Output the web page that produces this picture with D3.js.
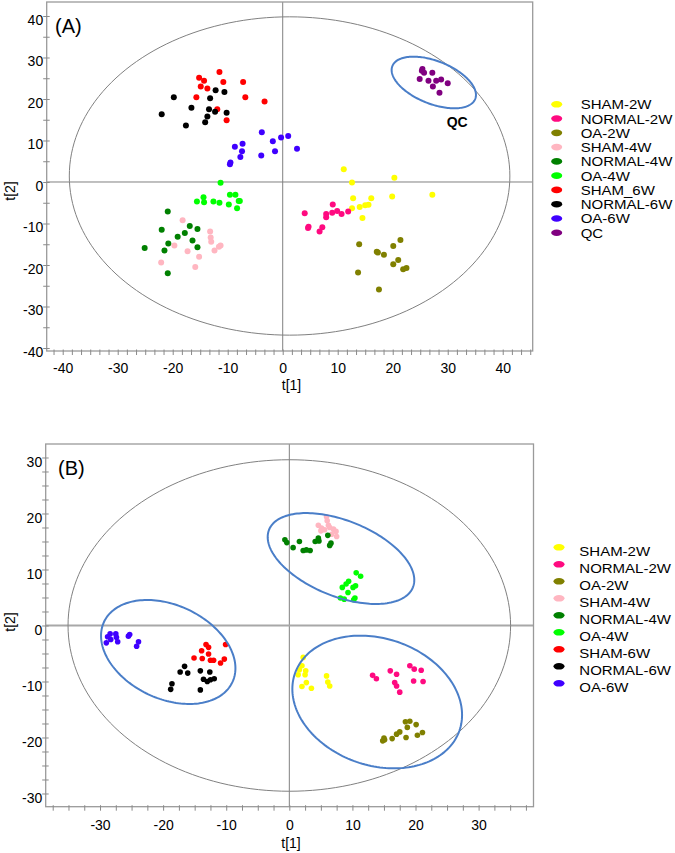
<!DOCTYPE html>
<html><head><meta charset="utf-8">
<script src="https://cdn.jsdelivr.net/npm/d3@7"></script>
<style>
body{margin:0;background:#fff}
svg{display:block}
text{font-family:Arial,"Liberation Sans",sans-serif;fill:#000}
</style>
</head><body>
<svg id="c" width="675" height="853"></svg>
<script>
// ---------------- DATA ----------------
const groupsA = ["SHAM-2W","NORMAL-2W","OA-2W","SHAM-4W","NORMAL-4W","OA-4W","SHAM_6W","NORMAL-6W","OA-6W","QC"];
const groupsB = ["SHAM-2W","NORMAL-2W","OA-2W","SHAM-4W","NORMAL-4W","OA-4W","SHAM-6W","NORMAL-6W","OA-6W"];
const groupColors = ["#FFFF00","#FF0A80","#808000","#FFB6C1","#008000","#00FF00","#FF0000","#000000","#3F00FF","#800080"];

// Panel A scores (t[1], t[2])
const a_sham2w   = [[11.1,3.1],[12.6,-0.1],[20.3,1.0],[12.8,-3.9],[16.1,-3.9],[19.9,-3.5],[27.2,-3.1],[14.0,-6.0],[15.0,-5.6],[15.6,-5.5],[12.6,-6.3],[14.5,-8.7]];
const a_normal2w = [[4.0,-7.5],[9.1,-5.4],[7.9,-7.7],[7.9,-8.5],[9.0,-7.4],[9.9,-7.0],[10.7,-7.7],[11.9,-7.1],[4.7,-10.8],[4.6,-11.1],[7.2,-10.9],[6.7,-11.9]];
const a_oa2w     = [[13.9,-15.0],[21.4,-14.0],[20.1,-15.4],[17.1,-16.8],[17.3,-17.0],[18.4,-17.5],[21.0,-18.8],[20.1,-19.8],[21.9,-21.0],[22.5,-20.7],[13.7,-21.8],[17.5,-25.9]];
const a_sham4w   = [[-18.2,-9.2],[-13.2,-11.9],[-13.1,-13.4],[-13.0,-14.4],[-19.7,-15.3],[-11.3,-15.3],[-11.6,-15.6],[-17.3,-16.7],[-12.4,-16.5],[-15.2,-18.0],[-22.1,-19.4],[-15.9,-20.5]];
const a_normal4w = [[-20.9,-7.1],[-22.0,-11.5],[-16.9,-10.6],[-15.5,-11.3],[-19.1,-13.2],[-17.8,-12.3],[-20.8,-14.8],[-16.4,-14.1],[-15.5,-15.7],[-21.5,-16.5],[-25.1,-15.9],[-20.9,-22.0]];
const a_oa4w     = [[-11.3,-0.2],[-14.4,-3.7],[-14.3,-4.9],[-15.6,-4.7],[-12.6,-4.7],[-11.5,-5.0],[-9.6,-3.1],[-8.6,-3.1],[-9.8,-5.4],[-8.0,-4.6],[-7.8,-4.6],[-8.3,-6.3]];
const a_sham6w   = [[-15.2,25.1],[-14.3,24.4],[-11.5,26.5],[-10.8,24.1],[-14.9,23.0],[-13.7,22.5],[-7.2,24.1],[-15.7,20.4],[-6.8,20.4],[-3.3,19.4],[-11.9,17.5],[-10.2,14.9]];
const a_normal6w = [[-19.8,20.4],[-22.0,16.3],[-16.6,17.9],[-17.6,13.6],[-13.2,20.2],[-12.2,22.1],[-10.6,21.7],[-13.4,17.5],[-13.7,15.8],[-14.1,14.4],[-12.3,16.9],[-10.2,16.7]];
const a_oa6w     = [[-3.8,12.0],[-0.3,10.7],[1.0,11.1],[-1.8,9.8],[2.6,8.0],[-7.3,9.2],[-8.7,8.5],[-7.4,7.4],[-1.4,7.4],[-7.7,6.0],[-3.9,6.4],[-9.5,4.7],[-9.6,4.3]];
const a_qc       = [[25.4,27.2],[25.7,26.3],[27.2,26.3],[24.9,24.8],[26.5,24.4],[27.9,24.4],[28.8,24.7],[30.0,23.8],[27.3,23.0],[28.5,21.5],[25.3,26.8]];

// Panel B scores (t[1], t[2])
const b_sham2w   = [[2.2,-5.7],[2.0,-7.2],[1.6,-7.9],[2.6,-8.1],[1.4,-8.8],[2.5,-8.8],[2.7,-10.2],[2.0,-10.9],[3.5,-11.2],[5.9,-9.0],[6.1,-10.1],[6.4,-10.8]];
const b_normal2w = [[13.2,-8.9],[13.8,-9.5],[16.0,-8.1],[17.0,-8.7],[16.7,-10.2],[17.0,-10.8],[17.5,-11.9],[19.1,-7.2],[19.8,-7.8],[20.9,-8.0],[19.7,-9.9],[21.2,-10.0]];
const b_oa2w     = [[18.4,-17.2],[19.1,-17.1],[18.7,-18.2],[20.1,-17.7],[17.5,-19.0],[17.0,-19.4],[16.3,-20.2],[15.0,-20.1],[14.8,-20.6],[15.1,-20.4],[18.5,-20.0],[20.3,-19.6],[21.1,-19.1]];
const b_sham4w   = [[5.9,19.4],[6.0,18.7],[4.6,17.9],[5.1,17.4],[5.6,17.1],[6.4,17.5],[7.0,17.2],[7.4,16.8],[6.7,16.3],[7.5,15.9],[5.0,16.9],[6.2,17.9]];
const b_normal4w = [[-0.7,15.3],[-0.4,14.8],[0.6,13.9],[1.6,15.0],[2.2,13.4],[2.7,13.5],[3.3,13.4],[4.1,15.0],[4.6,15.6],[4.7,15.1],[6.1,16.1],[6.6,14.7],[6.4,14.3]];
const b_oa4w     = [[10.6,9.4],[11.3,8.8],[9.4,7.9],[9.0,7.4],[8.4,6.8],[10.5,7.1],[10.1,6.8],[9.3,5.9],[8.1,4.9],[8.7,4.7],[10.4,4.9],[10.2,4.6]];
const b_sham6w   = [[-13.2,-3.4],[-12.8,-3.9],[-13.9,-4.5],[-10.1,-3.4],[-15.1,-5.8],[-13.8,-5.9],[-12.8,-5.1],[-12.5,-6.2],[-12.0,-6.2],[-10.9,-6.7],[-10.3,-6.0]];
const b_normal6w = [[-16.6,-7.3],[-17.3,-8.3],[-16.1,-8.5],[-14.1,-8.1],[-12.6,-8.3],[-13.6,-9.6],[-13.0,-10.0],[-12.5,-9.7],[-11.9,-9.5],[-18.6,-10.4],[-18.8,-11.4],[-14.1,-11.5]];
const b_oa6w     = [[-28.4,-1.5],[-28.8,-2.0],[-29.0,-3.1],[-28.3,-2.5],[-27.5,-1.5],[-27.4,-2.1],[-27.2,-2.9],[-25.5,-1.9],[-25.3,-1.6],[-24.2,-3.7],[-23.9,-2.9]];

// Ellipses: [centerX, centerY, u_x, u_y, v_x, v_y] (conjugate semi-axes in data units)
const ellipseA_T2 = [1.25, 1.45, 40.05, 0, 0, 38.35];
const ellipseA_QC = [27.47, 23.98, 7.53, -3.97, -1.44, -4.79];
const ellipseB_T2 = [0, 0, 35.07, 0, 0, 29.6];
const ellipseB_4W = [8.19, 11.96, 11.40, -5.14, -2.23, -6.28];
const ellipseB_6W = [-19.19, -4.73, 10.17, -5.39, -3.16, -7.56];
const ellipseB_2W = [13.93, -13.66, 13.04, -5.09, -3.29, -10.70];

// Axis tick labels
const tickLabelsAx = [-40,-30,-20,-10,0,10,20,30,40];
const tickLabelsAy = [-40,-30,-20,-10,0,10,20,30,40];
const tickLabelsBx = [-30,-20,-10,0,10,20,30];
const tickLabelsBy = [-30,-20,-10,0,10,20,30];

// ---------------- DRAW ----------------
const svg = d3.select("#c");

function drawPanel(o) {
  const g = svg.append("g");
  const x = d3.scaleLinear().domain(o.xDomain).range([o.left, o.right]);
  const y = d3.scaleLinear().domain(o.yDomain).range([o.bottom, o.top]);

  const clipId = "clip" + o.name;
  g.append("clipPath").attr("id", clipId).append("rect")
    .attr("x", o.left).attr("y", o.top).attr("width", o.right - o.left).attr("height", o.bottom - o.top);
  const plot = g.append("g").attr("clip-path", `url(#${clipId})`);

  // zero lines
  plot.append("line").attr("x1", x(0)).attr("x2", x(0)).attr("y1", o.top).attr("y2", o.bottom)
    .attr("stroke", "#808080").attr("stroke-width", 1);
  plot.append("line").attr("x1", o.left).attr("x2", o.right).attr("y1", y(0)).attr("y2", y(0))
    .attr("stroke", o.hzColor).attr("stroke-width", o.hzWidth);

  const ell = (e) => {
    const phis = d3.range(0, 2 * Math.PI + 0.001, Math.PI / 90);
    return d3.line()(phis.map(p => [
      x(e[0] + e[2] * Math.cos(p) + e[4] * Math.sin(p)),
      y(e[1] + e[3] * Math.cos(p) + e[5] * Math.sin(p))
    ])) + "Z";
  };
  plot.append("path").attr("d", ell(o.t2)).attr("fill", "none").attr("stroke", "#808080").attr("stroke-width", 1);

  // points
  o.series.forEach((s, i) => {
    plot.append("g").selectAll("circle").data(s).join("circle")
      .attr("cx", d => x(d[0])).attr("cy", d => y(d[1])).attr("r", o.r)
      .attr("fill", o.colors[i]);
  });

  o.blue.forEach(e => {
    plot.append("path").attr("d", ell(e)).attr("fill", "none").attr("stroke", "#4A7EC8").attr("stroke-width", 2);
  });

  // frame
  g.append("rect").attr("x", o.left).attr("y", o.top).attr("width", o.right - o.left).attr("height", o.bottom - o.top)
    .attr("fill", "none").attr("stroke", "#9a9a9a").attr("stroke-width", 1.3);

  // axes
  const xMinor = d3.range(Math.ceil(o.xDomain[0] / o.xStep), Math.floor(o.xDomain[1] / o.xStep) + 1).map(k => k * o.xStep);
  const yMinor = d3.range(Math.ceil(o.yDomain[0] / o.yStep), Math.floor(o.yDomain[1] / o.yStep) + 1).map(k => k * o.yStep);
  const fmt = (labels) => (d) => {
    const r = Math.round(d);
    return (Math.abs(d - r) < 1e-6 && labels.includes(r)) ? String(r) : "";
  };
  const xa = g.append("g").attr("transform", `translate(0,${o.bottom})`)
    .call(d3.axisBottom(x).tickValues(xMinor).tickSizeOuter(0).tickFormat(fmt(o.xLabels)));
  xa.select(".domain").remove();
  xa.selectAll(".tick line").attr("y1", -1.5).attr("y2", 4).attr("stroke", "#8a8a8a");
  xa.selectAll(".tick text").attr("y", o.xLabelY).attr("dy", 0).attr("font-size", 14)
    .attr("font-family", "Arial, 'Liberation Sans', sans-serif").attr("fill", "#000");

  const ya = g.append("g").attr("transform", `translate(${o.left},0)`)
    .call(d3.axisLeft(y).tickValues(yMinor).tickSizeOuter(0).tickFormat(fmt(o.yLabels)));
  ya.select(".domain").remove();
  ya.selectAll(".tick line").attr("x1", 3).attr("x2", -3.5).attr("stroke", "#8a8a8a");
  ya.selectAll(".tick text").attr("x", -3.5).attr("y", o.yLabelDy).attr("dy", "0.32em").attr("font-size", 14)
    .attr("font-family", "Arial, 'Liberation Sans', sans-serif").attr("fill", "#000");

  // axis titles
  g.append("text").attr("x", o.xTitle[0]).attr("y", o.xTitle[1]).attr("text-anchor", "middle")
    .attr("font-size", 14).text("t[1]");
  g.append("text").attr("transform", `translate(${o.yTitle[0]},${o.yTitle[1]}) rotate(-90)`)
    .attr("text-anchor", "middle").attr("font-size", 14).text("t[2]");

  // panel label
  g.append("text").attr("x", o.panelLabel[0]).attr("y", o.panelLabel[1]).attr("font-size", 20).text(o.label);

  // legend
  const lg = g.append("g");
  o.groups.forEach((name, i) => {
    const cy = o.legY + i * o.legStep;
    lg.append("ellipse").attr("cx", o.legX).attr("cy", cy).attr("rx", 5.5).attr("ry", 3.3).attr("fill", o.colors[i]);
    lg.append("text").attr("transform", `translate(${o.legTextX},${cy + o.legTextDy}) scale(1.25,1)`)
      .attr("font-size", 12).text(name);
  });
  return {x, y, g};
}

const pA = drawPanel({
  name: "A", label: "(A)",
  left: 46.7, right: 532.7, top: 2, bottom: 351,
  xDomain: [-42.91, 45.45], yDomain: [-40.72, 43.37],
  xStep: 10 / 6, yStep: 5,
  xLabels: tickLabelsAx, yLabels: tickLabelsAy,
  xLabelY: 22, yLabelDy: 4,
  hzColor: "#808080", hzWidth: 1,
  t2: ellipseA_T2, blue: [ellipseA_QC],
  series: [a_sham2w, a_normal2w, a_oa2w, a_sham4w, a_normal4w, a_oa4w, a_sham6w, a_normal6w, a_oa6w, a_qc],
  colors: groupColors, groups: groupsA, r: 3,
  xTitle: [291.5, 390], yTitle: [15, 191], panelLabel: [55, 33],
  legX: 556.7, legTextX: 580.7, legY: 104.3, legStep: 14.27, legTextDy: 5
});
pA.g.append("text").attr("x", 446.7).attr("y", 127).attr("font-size", 14).attr("font-weight", "bold").text("QC");

drawPanel({
  name: "B", label: "(B)",
  left: 45.7, right: 533.5, top: 444, bottom: 806.7,
  xDomain: [-38.61, 38.70], yDomain: [-32.36, 32.41],
  xStep: 2.5, yStep: 2.5,
  xLabels: tickLabelsBx, yLabels: tickLabelsBy,
  xLabelY: 23.3, yLabelDy: 4.5,
  hzColor: "#a8a8a8", hzWidth: 2,
  t2: ellipseB_T2, blue: [ellipseB_4W, ellipseB_6W, ellipseB_2W],
  series: [b_sham2w, b_normal2w, b_oa2w, b_sham4w, b_normal4w, b_oa4w, b_sham6w, b_normal6w, b_oa6w],
  colors: groupColors.slice(0, 9), groups: groupsB, r: 2.8,
  xTitle: [291, 848], yTitle: [15, 622], panelLabel: [58, 475],
  legX: 559, legTextX: 579.3, legY: 547.3, legStep: 17, legTextDy: 9
});
</script>
</body></html>
